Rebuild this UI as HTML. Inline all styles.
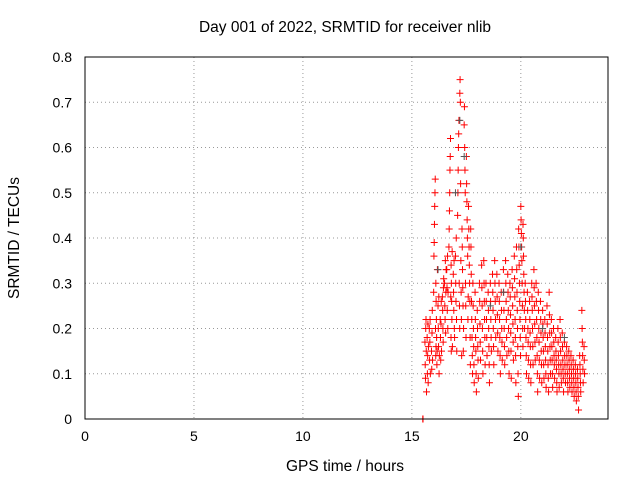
<!DOCTYPE html>
<html><head><meta charset="utf-8"><style>
body{margin:0;background:#fff;}
svg{font-family:"Liberation Sans",sans-serif;font-size:14px;}
.ttl{font-size:15.5px;}
</style></head><body>
<svg id="chart" width="640" height="480" viewBox="0 0 640 480">
<rect width="640" height="480" fill="#fff"/>
<text class="ttl" x="345" y="32" text-anchor="middle">Day 001 of 2022, SRMTID for receiver nlib</text>
<text class="ttl" x="345" y="471" text-anchor="middle">GPS time / hours</text>
<text class="ttl" transform="translate(19,238) rotate(-90)" text-anchor="middle">SRMTID / TECUs</text>
<g id="grid"></g><g id="ticks"></g><g id="marks"></g>
<rect x="85" y="57" width="523" height="362" fill="none" stroke="#000"/>
</svg>
<script>
const xTicks=[0,5,10,15,20];
const yTicks=[0,0.1,0.2,0.3,0.4,0.5,0.6,0.7,0.8];
const binTimes=[15.5,15.6,15.7,15.8,15.9,16.0,16.1,16.2,16.3,16.4,16.5,16.6,16.7,16.8,16.9,17.0,17.1,17.2,17.3,17.4,17.5,17.6,17.7,17.8,17.9,18.0,18.1,18.2,18.3,18.4,18.5,18.6,18.7,18.8,18.9,19.0,19.1,19.2,19.3,19.4,19.5,19.6,19.7,19.8,19.9,20.0,20.1,20.2,20.3,20.4,20.5,20.6,20.7,20.8,20.9,21.0,21.1,21.2,21.3,21.4,21.5,21.6,21.7,21.8,21.9,22.0,22.1,22.2,22.3,22.4,22.5,22.6,22.7,22.8,22.9];
const binValues=[[0.0,0.0],[.17,.12,.09,.2,.22,.15,.06],[.18,.1,.14,.21,.08,.16],[.2,.13,.17,.22,.1],[.15,.11,.19,.24,.13],[.28,.36,.39,.43,.47,.5,.53,.2,.14,.16],[.3,.26,.22,.18,.12,.15,.33],[.25,.2,.16,.27,.1,.14],[.22,.18,.13,.21,.26,.15],[.27,.24,.2,.17,.29,.31],[.3,.25,.22,.35,.19,.28,.33],[.33,.29,.24,.36,.2,.28],[.38,.42,.46,.5,.55,.58,.62,.27,.18,.15],[.34,.3,.26,.22,.37,.16],[.32,.28,.24,.35,.2,.18],[.36,.3,.26,.4,.22,.15],[.45,.5,.55,.6,.63,.66,.3,.25,.2],[.72,.75,.7,.52,.35,.28,.22,.14],[.42,.38,.33,.29,.25,.15,.2],[.65,.69,.6,.55,.5,.3,.25,.18],[.58,.52,.48,.44,.4,.36,.22,.27],[.47,.42,.38,.34,.3,.26,.18,.12],[.42,.38,.32,.26,.22,.18,.14,.1],[.3,.25,.2,.16,.12,.08],[.28,.22,.18,.15,.1,.06],[.24,.2,.16,.13,.09],[.3,.26,.21,.17,.13],[.34,.29,.25,.2,.15,.1],[.35,.3,.26,.22,.18,.12],[.3,.26,.22,.18,.14],[.28,.24,.2,.16,.12,.08],[.3,.26,.22,.18,.15],[.32,.28,.24,.2,.16,.12],[.35,.3,.26,.22,.18],[.32,.27,.23,.19,.15],[.3,.26,.22,.18,.14,.1],[.28,.24,.2,.17,.13],[.33,.28,.24,.2,.16,.12],[.35,.3,.26,.22,.18,.14],[.32,.28,.24,.2,.15,.1],[.3,.27,.23,.19,.15,.09],[.33,.29,.25,.21,.17,.13],[.36,.31,.27,.22,.18,.14,.08],[.38,.33,.28,.24,.2,.16,.1,.05],[.42,.38,.34,.3,.26,.22,.18,.14],[.47,.44,.41,.38,.35,.3,.25,.2,.16],[.43,.4,.36,.32,.28,.24,.2],[.3,.26,.22,.18,.14,.1],[.28,.24,.2,.17,.13,.09],[.26,.22,.19,.16,.12,.08],[.3,.27,.24,.2,.16,.12],[.33,.29,.25,.21,.17,.13],[.3,.26,.22,.18,.14,.1,.06],[.28,.24,.2,.17,.13,.09],[.26,.22,.19,.15,.12,.08],[.24,.21,.18,.15,.12,.09],[.22,.19,.16,.13,.1,.07],[.25,.21,.18,.15,.12,.09,.06],[.28,.23,.19,.16,.13,.1],[.22,.19,.16,.13,.1,.07],[.2,.17,.14,.12,.09],[.18,.15,.13,.11,.08,.06],[.2,.17,.14,.12,.1,.07],[.22,.18,.15,.12,.1,.08],[.19,.16,.13,.11,.09,.06],[.17,.14,.12,.1,.08],[.16,.14,.12,.1,.08,.06],[.15,.13,.11,.09,.07],[.14,.12,.1,.08,.06],[.13,.11,.09,.07,.05],[.12,.1,.08,.06,.04],[.11,.09,.07,.05,.02],[.14,.12,.1,.08,.06],[.24,.2,.17,.14,.11,.08],[.16,.13,.1]];
const grayTimes=[16.2,17.0,17.2,17.4,20.0,21.0,22.0,19.2,18.6];
const grayValues=[.33,.5,.66,.58,.38,.2,.18,.28,.25];
const X=t=>85+t*523/24, Y=v=>419-v*362/0.8;
const NS="http://www.w3.org/2000/svg";
const grid=document.getElementById('grid'),ticks=document.getElementById('ticks'),marks=document.getElementById('marks');
function mk(tag,attrs,parent){const e=document.createElementNS(NS,tag);for(const k in attrs)e.setAttribute(k,attrs[k]);parent.appendChild(e);return e;}
xTicks.forEach(t=>{
 if(t>0){const g=mk('line',{x1:X(t),x2:X(t),y1:57,y2:419,stroke:'#999','stroke-dasharray':'1,3'},grid);
 
 }
 const l=mk('text',{x:X(t),y:441,'text-anchor':'middle'},ticks);l.textContent=t;
 
 
});
yTicks.forEach(v=>{
 if(v>0&&v<0.8){const g=mk('line',{x1:85,x2:608,y1:Y(v),y2:Y(v),stroke:'#999','stroke-dasharray':'1,3'},grid);
 
 }
 const l=mk('text',{x:72,y:Y(v)+5,'text-anchor':'end'},ticks);l.textContent=(v===0?'0':v.toFixed(1));
 
 
});
function plus(x,y,c){const p=mk('path',{d:`M${x-3.5},${y}h7M${x},${y-3.5}v7`,stroke:c,'stroke-width':1,fill:'none'},marks);return p;}
binTimes.forEach((t,i)=>{binValues[i].forEach((v,j)=>{
 const p=plus(X(t+j*0.012),Y(v),'#f00');
 
 
});});
grayTimes.forEach((t,i)=>{
 const p=plus(X(t),Y(grayValues[i]),'#555');
 
 
});
</script>
</body></html>
